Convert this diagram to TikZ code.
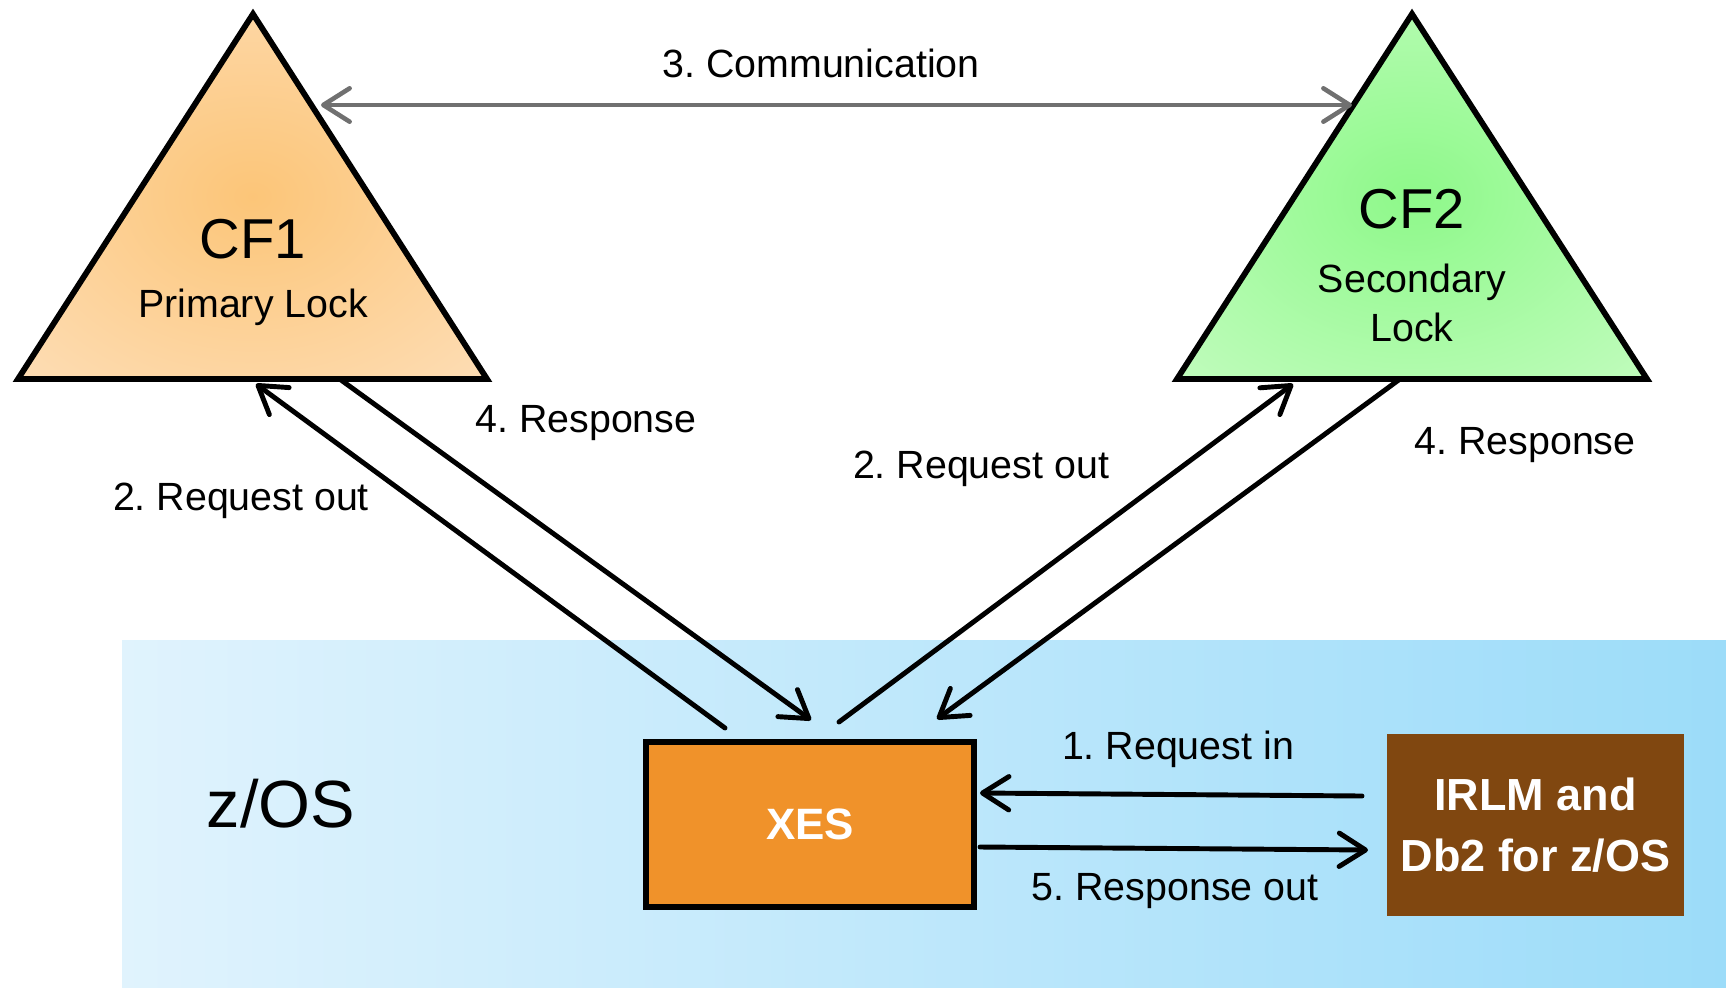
\documentclass[tikz,border=0pt]{standalone}
\usepackage{fontspec}
\setmainfont{Liberation Sans}
\frenchspacing
\usetikzlibrary{arrows.meta}
\definecolor{zosleft}{HTML}{E0F3FD}
\definecolor{zosright}{HTML}{9CDCF9}
\definecolor{xesfill}{HTML}{F0922A}
\definecolor{irlmfill}{HTML}{804710}
\definecolor{commgray}{HTML}{707070}
\pgfdeclareradialshading{cfoneglow}{\pgfpointorigin}{rgb(0bp)=(0.988,0.773,0.471); rgb(50bp)=(0.996,0.906,0.808)}
\pgfdeclareradialshading{cftwoglow}{\pgfpointorigin}{rgb(0bp)=(0.557,0.976,0.541); rgb(50bp)=(0.835,0.992,0.820)}
\begin{document}
\begin{tikzpicture}[x=0.02cm,y=-0.02cm,
		lbl/.style={font=\fontsize{22.4}{27}\selectfont},
		link/.style={line width=2.8pt,line cap=round,-{Straight Barb[length=15pt,width=19pt,round]}},
		tri/.style={draw,line width=3.3pt,line join=miter}]
	\useasboundingbox (0,0) rectangle (1726,987);
	\shade[left color=zosleft,right color=zosright] (122,640) rectangle (1726,987);
	\node[font=\fontsize{38}{44}\selectfont] (zos) at (281,804){z/OS};
	% the two coupling facilities
	\coordinate (T1) at (253,14); \coordinate (L1) at (18,379); \coordinate (R1) at (487,379);
	\coordinate (T2) at (1412,14); \coordinate (L2) at (1177,379); \coordinate (R2) at (1647,379);
	\shadedraw[shading=cfoneglow,tri] (T1)--(L1)--(R1)--cycle;
	\shadedraw[shading=cftwoglow,tri] (T2)--(L2)--(R2)--cycle;
	\node[font=\fontsize{32}{38}\selectfont] (cf1) at (253,239){CF1};
	\node[lbl] (cf1lock) at (253,307){Primary Lock};
	\node[font=\fontsize{32}{38}\selectfont] (cf2) at (1412,209){CF2};
	\node[lbl,align=center,font=\fontsize{22.4}{27.8}\selectfont] (cf2lock) at (1412,303){Secondary\\Lock};
	% boxes inside z/OS
	\node[draw,line width=3pt,fill=xesfill,minimum width=6.56cm,minimum height=3.3cm,inner sep=0,text=white,font=\bfseries\fontsize{25}{30}\selectfont] (xes) at (810,824.5){XES};
	\node[fill=irlmfill,minimum width=5.94cm,minimum height=3.64cm,inner sep=0,text=white,align=center,font=\bfseries\fontsize{25.6}{35}\selectfont] (irlm) at (1535.5,825){IRLM and\\Db2 for z/OS};
	% connector ends
	\coordinate (c1) at (321,105); \coordinate (c2) at (1352,105);
	\coordinate (q1a) at (725,728); \coordinate (q1b) at (256,384);
	\coordinate (r1a) at (341,380); \coordinate (r1b) at (811,720);
	\coordinate (q2a) at (839,722); \coordinate (q2b) at (1293,384);
	\coordinate (r2a) at (1400,379); \coordinate (r2b) at (937,719);
	\coordinate (ina) at (1362,796); \coordinate (inb) at (980,793);
	\coordinate (outa) at (980,847); \coordinate (outb) at (1368,850);
	\draw[commgray,line width=2.6pt,{Straight Barb[length=15pt,width=19pt,round]}-{Straight Barb[length=15pt,width=19pt,round]}] (c1)--(c2);
	\draw[link] (q1a)--(q1b);
	\draw[link] (r1a)--(r1b);
	\draw[link] (q2a)--(q2b);
	\draw[link] (r2a)--(r2b);
	\draw[link] (ina)--(inb);
	\draw[link] (outa)--(outb);
	\node[lbl] (comm) at (821,63){3. Communication};
	\node[lbl] (req1) at (241,501){2. Request out};
	\node[lbl] (resp1) at (586,423){4. Response};
	\node[lbl] (req2) at (981,469){2. Request out};
	\node[lbl] (resp2) at (1525,445){4. Response};
	\node[lbl] (reqin) at (1178,749){1. Request in};
	\node[lbl] (respout) at (1175,891){5. Response out};
\end{tikzpicture}
\end{document}
